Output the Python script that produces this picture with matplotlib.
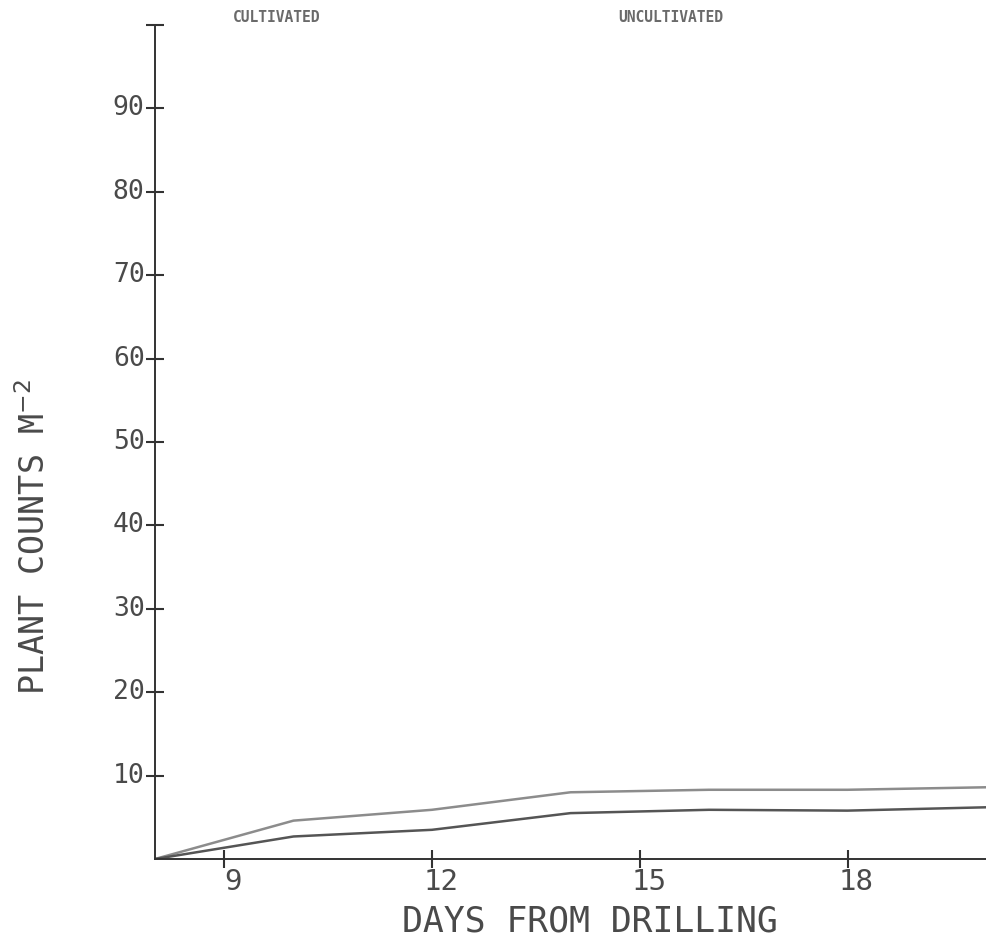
import matplotlib
matplotlib.use("Agg")
import matplotlib.pyplot as plt
import matplotlib.transforms as mtransforms

days = [8, 10, 12, 14, 16, 18, 20]
cultivated = [0, 4.6, 5.9, 8.0, 8.3, 8.3, 8.6]
uncultivated = [0, 2.7, 3.5, 5.5, 5.9, 5.8, 6.2]
x_ticks = [9, 12, 15, 18]
y_ticks = [10, 20, 30, 40, 50, 60, 70, 80, 90]

mono = ["DejaVu Sans Mono", "DejaVu Sans"]
txt = "#4a4a4a"

fig = plt.figure(figsize=(9.86, 9.41), dpi=100)
ax = fig.add_axes([155/986, 1 - 859/941, 1 - 155/986, (859 - 25)/941])
ax.set_xlim(8, 20)
ax.set_ylim(0, 100)

ax.plot(days, cultivated, color="#8c8c8c", lw=1.8, solid_joinstyle="round")
ax.plot(days, uncultivated, color="#555555", lw=1.8, solid_joinstyle="round")

for s in ["top", "right"]:
    ax.spines[s].set_visible(False)
for s in ["left", "bottom"]:
    ax.spines[s].set_color("#333333")
    ax.spines[s].set_linewidth(1.4)

ax.set_xticks(x_ticks)
ax.set_xticklabels([str(v) for v in x_ticks], family=mono, fontsize=21, color=txt)
ax.set_yticks(y_ticks + [100])
ax.set_yticklabels([str(v) for v in y_ticks] + [""], family=mono, fontsize=19, color=txt)
ax.tick_params(axis="both", direction="inout", length=13, width=1.5, color="#333333")
ax.tick_params(axis="y", pad=1)
ax.tick_params(axis="x", pad=0)

off_y = mtransforms.ScaledTranslation(0, 3/100, fig.dpi_scale_trans)
for lbl in ax.get_yticklabels():
    lbl.set_transform(lbl.get_transform() + off_y)
off_x = mtransforms.ScaledTranslation(9/100, 0, fig.dpi_scale_trans)
for lbl in ax.get_xticklabels():
    lbl.set_transform(lbl.get_transform() + off_x)

fig.text(590/986, 1 - 922/941, "DAYS FROM DRILLING", family=mono, fontsize=25,
         color=txt, ha="center", va="center")
fig.text(35/986, 1 - 537/941, "PLANT COUNTS M$^{-2}$", family=mono, fontsize=24,
         color=txt, ha="center", va="center", rotation=90)

fig.text(277/986, 1 - 18/941, "CULTIVATED", family=mono, fontsize=10.5,
         weight="bold", color="#6a6a6a", ha="center", va="center")
fig.text(671/986, 1 - 18/941, "UNCULTIVATED", family=mono, fontsize=10.5,
         weight="bold", color="#6a6a6a", ha="center", va="center")

fig.savefig("out.png", dpi=100)
